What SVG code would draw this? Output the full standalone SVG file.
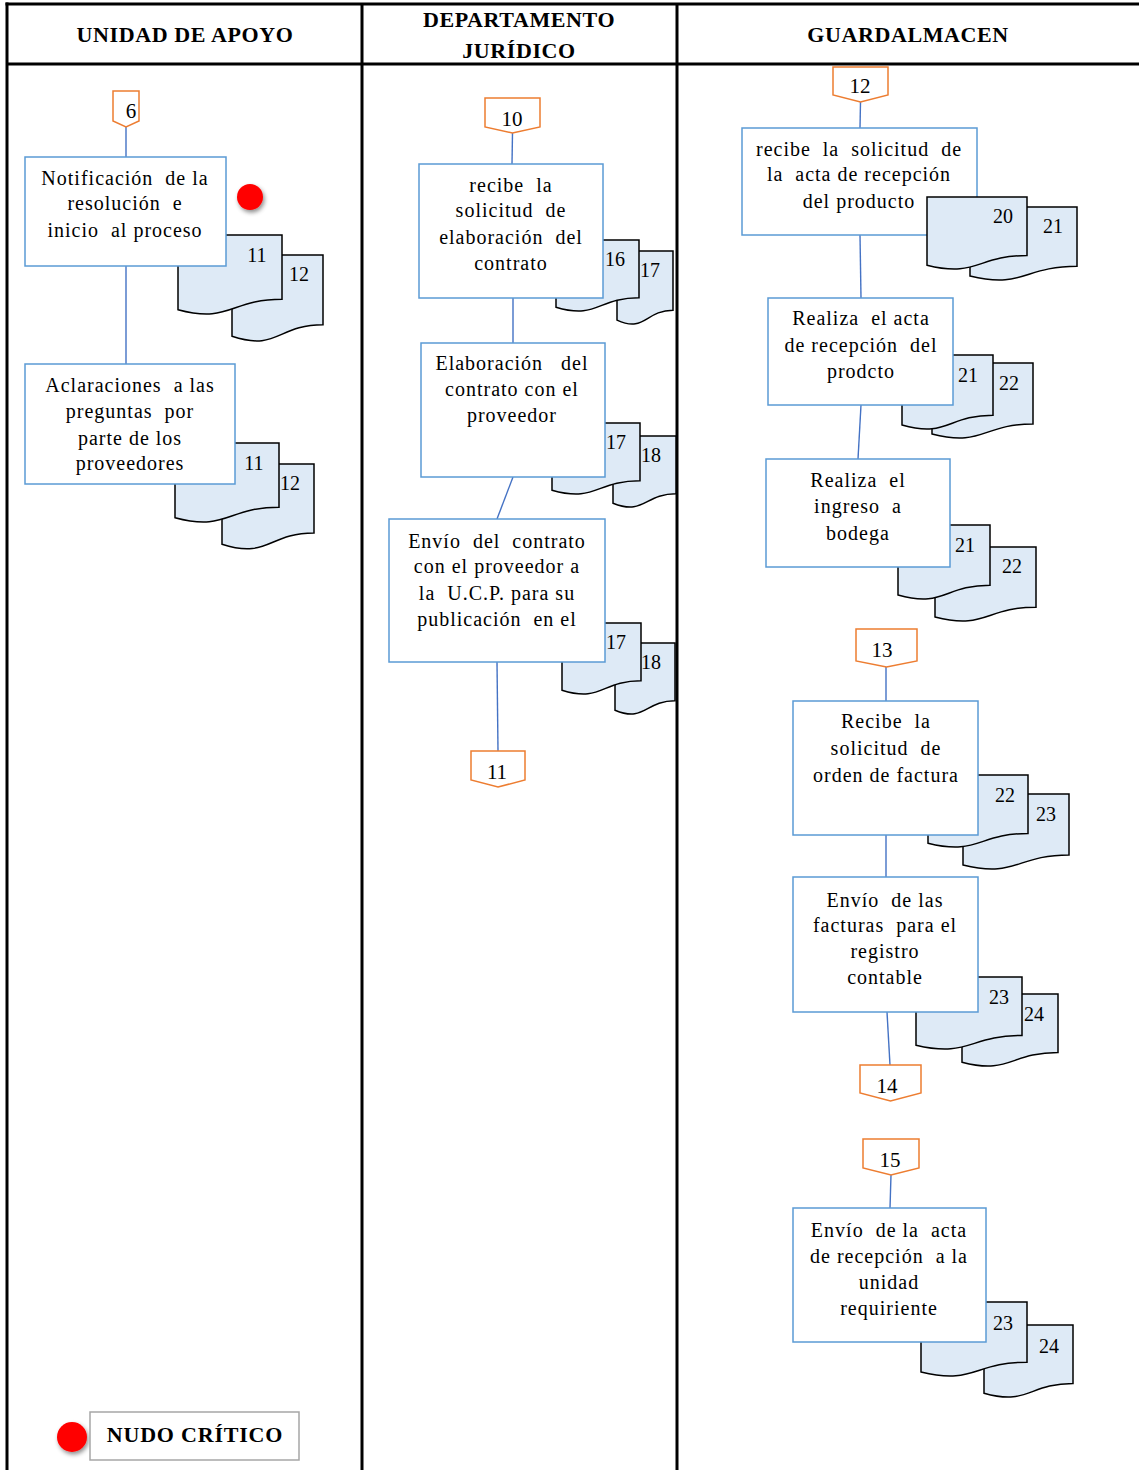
<svg xmlns="http://www.w3.org/2000/svg" width="1139" height="1470" viewBox="0 0 1139 1470">
<defs>
<filter id="sh" x="-50%" y="-50%" width="200%" height="200%">
<feDropShadow dx="1.5" dy="2.5" stdDeviation="2" flood-color="#000" flood-opacity="0.45"/>
</filter>
</defs>
<style>
.frame{stroke:#000;stroke-width:3;fill:none}
.hd{font-family:"Liberation Serif","Times New Roman",serif;font-weight:bold;font-size:22px;letter-spacing:0.6px;text-anchor:middle;fill:#000}
.box{fill:#fff;stroke:#5b9bd5;stroke-width:1.5}
.doc{fill:#deeaf6;stroke:#000;stroke-width:1.5}
.off{fill:#fff;stroke:#ed7d31;stroke-width:1.5}
.ln{stroke:#4472c4;stroke-width:1.4;fill:none}
.t{font-family:"Liberation Serif","Times New Roman",serif;font-size:20px;letter-spacing:1px;text-anchor:middle;fill:#000;white-space:pre}
.n{font-family:"Liberation Serif","Times New Roman",serif;font-size:20px;text-anchor:middle;fill:#000}
.cn{font-family:"Liberation Serif","Times New Roman",serif;font-size:21px;text-anchor:middle;fill:#000}
.dot{fill:#ff0000;filter:url(#sh)}
</style>

<g id="frame">
<line class="frame" x1="5.5" y1="4" x2="1139" y2="4"/>
<line class="frame" x1="7" y1="64" x2="1139" y2="64"/>
<line class="frame" x1="7" y1="2.5" x2="7" y2="1470"/>
<line class="frame" x1="362" y1="4" x2="362" y2="1470"/>
<line class="frame" x1="677" y1="4" x2="677" y2="1470"/>
<text class="hd" x="185" y="42">UNIDAD DE APOYO</text>
<text class="hd" x="519" y="27">DEPARTAMENTO</text>
<text class="hd" x="519" y="58">JURÍDICO</text>
<text class="hd" x="908" y="42">GUARDALMACEN</text>
</g>

<g id="connectors">
<line class="ln" x1="126" y1="127" x2="126" y2="157"/>
<line class="ln" x1="126" y1="266" x2="126" y2="364"/>
<line class="ln" x1="512.5" y1="133" x2="512" y2="164"/>
<line class="ln" x1="513" y1="298" x2="513" y2="343"/>
<line class="ln" x1="513" y1="477" x2="497" y2="519"/>
<line class="ln" x1="497" y1="662" x2="498" y2="751"/>
<line class="ln" x1="860.5" y1="102" x2="860" y2="128"/>
<line class="ln" x1="860" y1="235" x2="861" y2="298"/>
<line class="ln" x1="861" y1="405" x2="858" y2="459"/>
<line class="ln" x1="886" y1="667" x2="886" y2="701"/>
<line class="ln" x1="886" y1="835" x2="886" y2="877"/>
<line class="ln" x1="887" y1="1012" x2="890" y2="1065"/>
<line class="ln" x1="891" y1="1175" x2="890" y2="1208"/>
</g>

<!-- Lane 1 -->
<g id="off6">
<path class="off" d="M113,91 H139 V121 L126,127 L113,121 Z"/>
<text class="cn" x="131" y="118">6</text>
</g>
<g id="docs1">
<path class="doc" d="M232,255 H323 V324.8 C277.5,324.8 277.5,351.4 232,336.3 Z"/>
<text class="n" x="299" y="281">12</text>
<path class="doc" d="M178,235 H282 V299.2 C230,299.2 230,323.6 178,309.7 Z"/>
<text class="n" x="257" y="262">11</text>
</g>
<g id="box1">
<rect class="box" x="25" y="157" width="201" height="109"/>
<text class="t" x="125" y="185">Notificación  de la</text>
<text class="t" x="125" y="210">resolución  e</text>
<text class="t" x="125" y="237">inicio  al proceso</text>
</g>
<g id="critico1">
<circle class="dot" cx="250" cy="197" r="13"/>
</g>
<g id="docs2">
<path class="doc" d="M222,464 H314 V533 C268,533 268,559.2 222,544.3 Z"/>
<text class="n" x="290" y="490">12</text>
<path class="doc" d="M175,443 H279 V507.2 C227,507.2 227,531.6 175,517.7 Z"/>
<text class="n" x="254" y="470">11</text>
</g>
<g id="box2">
<rect class="box" x="25" y="364" width="210" height="120"/>
<text class="t" x="130" y="392">Aclaraciones  a las</text>
<text class="t" x="130" y="418">preguntas  por</text>
<text class="t" x="130" y="445">parte de los</text>
<text class="t" x="130" y="470">proveedores</text>
</g>

<!-- Lane 2 -->
<g id="off10">
<path class="off" d="M485,98 H540 V127 L512.5,133 L485,127 Z"/>
<text class="cn" x="512" y="126">10</text>
</g>
<g id="docs3">
<path class="doc" d="M617,251 H673 V310.3 C645,310.3 645,333 617,320.1 Z"/>
<text class="n" x="650" y="277">17</text>
<path class="doc" d="M556,240 H639 V297.7 C597.5,297.7 597.5,319.7 556,307.2 Z"/>
<text class="n" x="615" y="266">16</text>
</g>
<g id="box3">
<rect class="box" x="419" y="164" width="184" height="134"/>
<text class="t" x="511" y="192">recibe  la</text>
<text class="t" x="511" y="217">solicitud  de</text>
<text class="t" x="511" y="244">elaboración  del</text>
<text class="t" x="511" y="270">contrato</text>
</g>
<g id="docs4">
<path class="doc" d="M613,436 H676 V493.7 C644.5,493.7 644.5,515.7 613,503.2 Z"/>
<text class="n" x="651" y="462">18</text>
<path class="doc" d="M552,423 H640 V480.7 C596,480.7 596,502.7 552,490.2 Z"/>
<text class="n" x="616" y="449">17</text>
</g>
<g id="box4">
<rect class="box" x="421" y="343" width="184" height="134"/>
<text class="t" x="512" y="370">Elaboración   del</text>
<text class="t" x="512" y="396">contrato con el</text>
<text class="t" x="512" y="422">proveedor</text>
</g>
<g id="docs5">
<path class="doc" d="M615,643 H675 V700.7 C645,700.7 645,722.7 615,710.2 Z"/>
<text class="n" x="651" y="669">18</text>
<path class="doc" d="M562,623 H641 V680.7 C601.5,680.7 601.5,702.7 562,690.2 Z"/>
<text class="n" x="616" y="649">17</text>
</g>
<g id="box5">
<rect class="box" x="389" y="519" width="216" height="143"/>
<text class="t" x="497" y="548">Envío  del  contrato</text>
<text class="t" x="497" y="573">con el proveedor a</text>
<text class="t" x="497" y="600">la  U.C.P. para su</text>
<text class="t" x="497" y="626">publicación  en el</text>
</g>
<g id="off11">
<path class="off" d="M471,751 H525 V780 L498,787 L471,780 Z"/>
<text class="cn" x="497" y="779">11</text>
</g>

<!-- Lane 3 -->
<g id="off12">
<path class="off" d="M833,67 H888 V95 L860.5,102 L833,95 Z"/>
<text class="cn" x="860" y="93">12</text>
</g>
<g id="box6">
<rect class="box" x="742" y="128" width="235" height="107"/>
<text class="t" x="859" y="156">recibe  la  solicitud  de</text>
<text class="t" x="859" y="181">la  acta de recepción</text>
<text class="t" x="859" y="208">del producto</text>
</g>
<g id="docs6">
<path class="doc" d="M970,207 H1077 V266.3 C1023.5,266.3 1023.5,289 970,276.1 Z"/>
<text class="n" x="1053" y="233">21</text>
<path class="doc" d="M927,197 H1027 V255.5 C977,255.5 977,277.8 927,265.2 Z"/>
<text class="n" x="1003" y="223">20</text>
</g>
<g id="docs7">
<path class="doc" d="M932,363 H1033 V424 C982.5,424 982.5,447.2 932,434 Z"/>
<text class="n" x="1009" y="390">22</text>
<path class="doc" d="M902,355 H993 V415.2 C947.5,415.2 947.5,438.1 902,425 Z"/>
<text class="n" x="968" y="382">21</text>
</g>
<g id="box7">
<rect class="box" x="768" y="298" width="185" height="107"/>
<text class="t" x="861" y="325">Realiza  el acta</text>
<text class="t" x="861" y="352">de recepción  del</text>
<text class="t" x="861" y="378">prodcto</text>
</g>
<g id="docs8">
<path class="doc" d="M935,547 H1036 V607.2 C985.5,607.2 985.5,630.1 935,617 Z"/>
<text class="n" x="1012" y="573">22</text>
<path class="doc" d="M898,525 H990 V585.2 C944,585.2 944,608.1 898,595 Z"/>
<text class="n" x="965" y="552">21</text>
</g>
<g id="box8">
<rect class="box" x="766" y="459" width="184" height="108"/>
<text class="t" x="858" y="487">Realiza  el</text>
<text class="t" x="858" y="513">ingreso  a</text>
<text class="t" x="858" y="540">bodega</text>
</g>
<g id="off13">
<path class="off" d="M856,629 H917 V661 L886.5,667 L856,661 Z"/>
<text class="cn" x="882" y="657">13</text>
</g>
<g id="docs9">
<path class="doc" d="M963,794 H1069 V855 C1016,855 1016,878.2 963,865 Z"/>
<text class="n" x="1046" y="821">23</text>
<path class="doc" d="M928,775 H1028 V833.5 C978,833.5 978,855.8 928,843.2 Z"/>
<text class="n" x="1005" y="802">22</text>
</g>
<g id="box9">
<rect class="box" x="793" y="701" width="185" height="134"/>
<text class="t" x="886" y="728">Recibe  la</text>
<text class="t" x="886" y="755">solicitud  de</text>
<text class="t" x="886" y="782">orden de factura</text>
</g>
<g id="docs10">
<path class="doc" d="M962,994 H1058 V1052.5 C1010,1052.5 1010,1074.8 962,1062.2 Z"/>
<text class="n" x="1034" y="1021">24</text>
<path class="doc" d="M916,977 H1022 V1035.5 C969,1035.5 969,1057.8 916,1045.2 Z"/>
<text class="n" x="999" y="1004">23</text>
</g>
<g id="box10">
<rect class="box" x="793" y="877" width="185" height="135"/>
<text class="t" x="885" y="907">Envío  de las</text>
<text class="t" x="885" y="932">facturas  para el</text>
<text class="t" x="885" y="958">registro</text>
<text class="t" x="885" y="984">contable</text>
</g>
<g id="off14">
<path class="off" d="M860,1065 H921 V1093 L890.5,1101 L860,1093 Z"/>
<text class="cn" x="887" y="1093">14</text>
</g>
<g id="off15">
<path class="off" d="M863,1139 H919 V1168 L891,1175 L863,1168 Z"/>
<text class="cn" x="890" y="1167">15</text>
</g>
<g id="docs11">
<path class="doc" d="M984,1325 H1073 V1383.5 C1028.5,1383.5 1028.5,1405.8 984,1393.2 Z"/>
<text class="n" x="1049" y="1353">24</text>
<path class="doc" d="M921,1302 H1027 V1362.2 C974,1362.2 974,1385.1 921,1372 Z"/>
<text class="n" x="1003" y="1330">23</text>
</g>
<g id="box11">
<rect class="box" x="793" y="1208" width="193" height="134"/>
<text class="t" x="889" y="1237">Envío  de la  acta</text>
<text class="t" x="889" y="1263">de recepción  a la</text>
<text class="t" x="889" y="1289">unidad</text>
<text class="t" x="889" y="1315">requiriente</text>
</g>

<!-- Legend -->
<g id="legend">
<circle class="dot" cx="72" cy="1437" r="15"/>
<rect x="90" y="1412" width="209" height="48" fill="#fff" stroke="#a6a6a6" stroke-width="1.5"/>
<text class="hd" x="195" y="1442" style="letter-spacing:0.8px">NUDO CRÍTICO</text>
</g>
</svg>
